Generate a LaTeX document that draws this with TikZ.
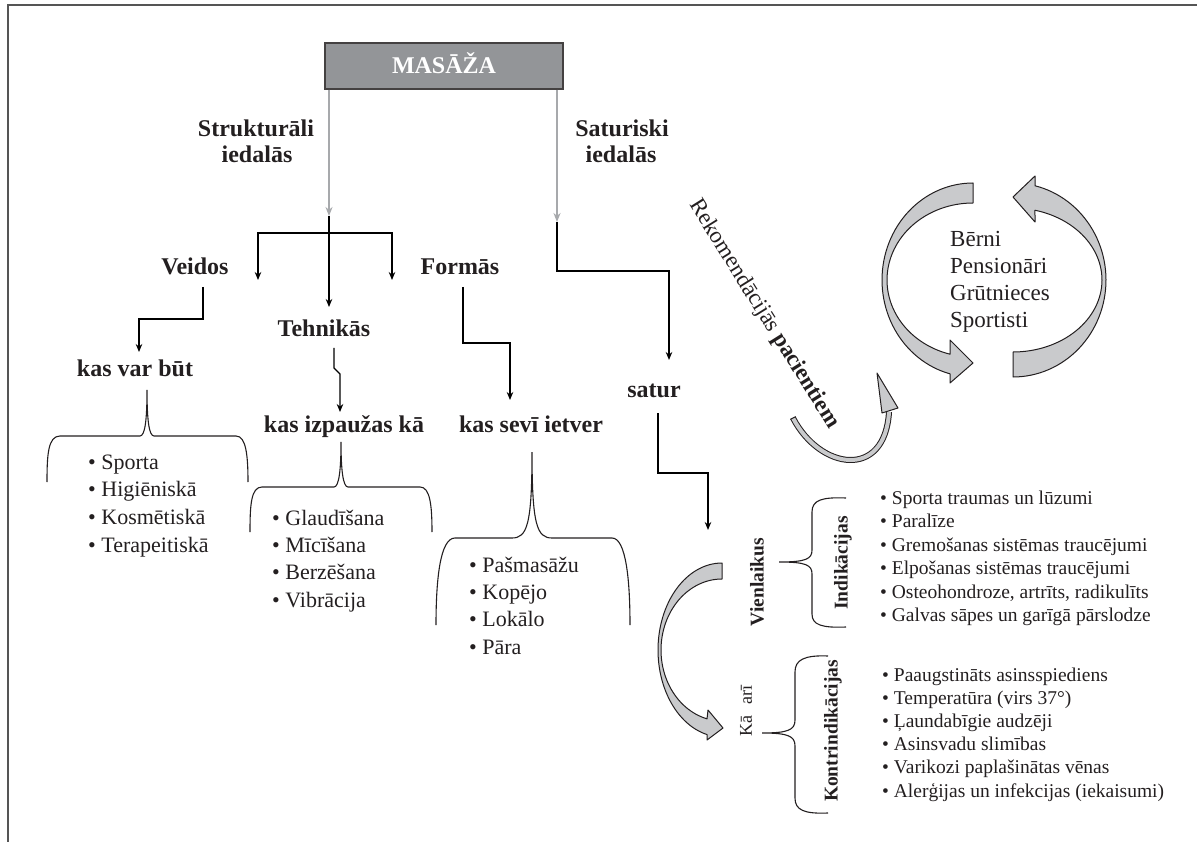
\documentclass[tikz,border=0pt]{standalone}
\usepackage{fontspec}
\setmainfont{Liberation Serif}
\usetikzlibrary{arrows.meta}
\definecolor{boxgray}{HTML}{939598}
\definecolor{linegray}{HTML}{A7A9AC}
\definecolor{fillgray}{HTML}{C9CACC}
\definecolor{framegray}{HTML}{555555}
\definecolor{ink}{HTML}{231F20}
\begin{document}
\begin{tikzpicture}[x=1pt,y=-1pt,
  lbl/.style={font=\rmfamily\fontsize{24}{28}\selectfont\bfseries, text=ink, inner sep=0pt, anchor=base},
  listitem/.style={font=\rmfamily\fontsize{22}{26}\selectfont, text=ink, inner sep=0pt, anchor=base west},
  smallitem/.style={font=\rmfamily\fontsize{19.5}{23}\selectfont, text=ink, inner sep=0pt, anchor=base west},
  groupitem/.style={font=\rmfamily\fontsize{23}{27}\selectfont, text=ink, inner sep=0pt, anchor=base west},
  rlbl/.style={font=\rmfamily\fontsize{19.5}{23}\selectfont\bfseries, text=ink, inner sep=0pt, rotate=90, anchor=center},
  conn/.style={draw=black, line width=1.3pt, -{Stealth[length=8pt,width=6.5pt]}},
  gconn/.style={draw=linegray, line width=2.2pt, -{Stealth[length=9pt,width=7pt]}},
  bracepath/.style={draw=ink, line width=1.1pt},
  ribbon/.style={fill=fillgray, draw=ink, line width=1pt, line join=round},
]
\useasboundingbox (0,0) rectangle (1197,842);
% frame
\draw[framegray, line width=2pt] (8,842) -- (8,5) -- (1197,5);

% title box
\node[draw=ink!85, fill=boxgray, line width=1.2pt, minimum width=238pt, minimum height=46pt, inner sep=0pt] (masaza) at (444,66) {};
\node[font=\rmfamily\fontsize{24}{28}\selectfont\bfseries, text=white, inner sep=0pt, anchor=base] (masazatxt) at (444,74) {MASĀŽA};

% labels
\node[lbl] (strA) at (256,137) {Strukturāli};
\node[lbl] (strB) at (257,163) {iedalās};
\node[lbl] (satA) at (622,137) {Saturiski};
\node[lbl] (satB) at (621,163) {iedalās};
\node[lbl] (veidos) at (195,275) {Veidos};
\node[lbl] (formas) at (460,275) {Formās};
\node[lbl] (tehnikas) at (324,337) {Tehnikās};
\node[lbl] (kvb) at (135,377) {kas var būt};
\node[lbl] (kia) at (344,432) {kas izpaužas kā};
\node[lbl] (ksi) at (531,432) {kas sevī ietver};
\node[lbl] (satur) at (654,397) {satur};

% coordinates for connectors
\coordinate (jl) at (329,216);
\coordinate (jr) at (557,222);
\coordinate (jh) at (329,233);
\coordinate (tipL) at (258,280);
\coordinate (tipR) at (392,280);
\coordinate (tipT) at (329,307);
\coordinate (tipS) at (669,360);
\coordinate (vStart) at (203,287);
\coordinate (vTip) at (139,352);
\coordinate (tStart) at (334,348);
\coordinate (tTip) at (340,412);
\coordinate (fStart) at (463,287);
\coordinate (fTip) at (510,400);
\coordinate (sStart) at (658,413);
\coordinate (sTip) at (708,530);

% gray connectors
\draw[gconn] (masaza.south -| jl) -- (jl);
\draw[gconn] (masaza.south -| jr) -- (jr);
% black connectors
\draw[conn] (jl) -- (tipT);
\draw[conn] (jh) -| (tipL);
\draw[conn] (jh) -| (tipR);
\draw[conn] (jr) -- (557,271) -| (tipS);
\draw[conn] (vStart) -- (203,319) -| (vTip);
\draw[conn] (tStart) -- (334,368) -- (340,374) -- (tTip);
\draw[conn] (fStart) -- (463,343) -| (fTip);
\draw[conn] (sStart) -- (658,473) -| (sTip);

% upward braces
\draw[bracepath] (47,482) .. controls (47,455) and (48,436) .. (60,436) -- (140,436) .. controls (145,436) and (147,420) .. (147,390) .. controls (147,420) and (149,436) .. (154,436) -- (236,436) .. controls (246,436) and (248,455) .. (248,482);
\draw[bracepath] (250,532) .. controls (250,505) and (251,487) .. (262,487) -- (334,487) .. controls (339,487) and (341,470) .. (341,442) .. controls (341,470) and (343,487) .. (348,487) -- (420,487) .. controls (430,487) and (432,505) .. (432,532);
\draw[bracepath] (436,625) .. controls (436,580) and (440,538) .. (455,538) -- (512,538) .. controls (527,538) and (532,525) .. (532,452) .. controls (532,525) and (537,538) .. (552,538) -- (612,538) .. controls (626,538) and (630,580) .. (630,625);

% right-facing braces
\draw[bracepath] (846,498) .. controls (822,497) and (812,500) .. (812,512) -- (812,550) .. controls (812,559) and (806,562) .. (779,562) .. controls (806,562) and (812,565) .. (812,574) -- (812,614) .. controls (812,625) and (822,628) .. (846,627);
\draw[bracepath] (828,656) .. controls (804,655) and (795,660) .. (795,672) -- (795,720) .. controls (795,730) and (788,733) .. (762,733) .. controls (788,733) and (795,736) .. (795,746) -- (795,798) .. controls (795,810) and (804,814) .. (828,813);

% lists
\foreach \lab [count=\i] in {Sporta, Higiēniskā, Kosmētiskā, Terapeitiskā}
  \node[listitem] (la\i) at (88,{469+27.9*(\i-1)}) {• \lab};
\foreach \lab [count=\i] in {Glaudīšana, Mīcīšana, Berzēšana, Vibrācija}
  \node[listitem] (lb\i) at (272,{525+27.4*(\i-1)}) {• \lab};
\foreach \lab [count=\i] in {Pašmasāžu, Kopējo, Lokālo, Pāra}
  \node[listitem] (lc\i) at (469,{572+27.4*(\i-1)}) {• \lab};
\foreach \lab [count=\i] in {Sporta traumas un lūzumi, Paralīze, Gremošanas sistēmas traucējumi, Elpošanas sistēmas traucējumi, {Osteohondroze, artrīts, radikulīts}, Galvas sāpes un garīgā pārslodze}
  \node[smallitem] (ld\i) at (880,{504+23.5*(\i-1)}) {• \lab};
\foreach \lab [count=\i] in {Paaugstināts asinsspiediens, Temperatūra (virs 37°), Ļaundabīgie audzēji, Asinsvadu slimības, Varikozi paplašinātas vēnas, Alerģijas un infekcijas (iekaisumi)}
  \node[smallitem] (le\i) at (882,{681+23.2*(\i-1)}) {• \lab};
\foreach \lab [count=\i] in {Bērni, Pensionāri, Grūtnieces, Sportisti}
  \node[groupitem] (lf\i) at (950,{247+27*(\i-1)}) {\lab};

% rotated labels
\node[rlbl] (vien) at (757,582) {Vienlaikus};
\node[rlbl] (indik) at (843,563) {Indikācijas};
\node[rlbl] (kontr) at (833,731) {Kontrindikācijas};
\node[font=\rmfamily\fontsize{18}{22}\selectfont, text=ink, inner sep=0pt, rotate=90] (kaari) at (746,711) {Kā\hspace{12pt}arī};
\node[font=\rmfamily\fontsize{23}{27}\selectfont, text=ink, inner sep=0pt, rotate=-58] (rekom) at (764,314) {Rekomendācijās \textbf{pacientiem}};

% circular ribbon arrows
\filldraw[ribbon] plot[domain=-90:-255.4, samples=60, variable=\a] ({973+91*cos(\a)},{280+97*sin(\a)}) -- (950,383) -- (973,363) -- (950,340) -- plot[domain=-254.5:-90, samples=60, variable=\a] ({973+86*cos(\a)},{280+77*sin(\a)}) -- cycle;
\filldraw[ribbon] plot[domain=90:-76.3, samples=60, variable=\a] ({1013+93*cos(\a)},{280+97*sin(\a)}) -- (1035,176) -- (1013,197) -- (1035,222) -- plot[domain=-75.7:90, samples=60, variable=\a] ({1013+89*cos(\a)},{280+72*sin(\a)}) -- cycle;
% lower big ribbon arrow
\filldraw[ribbon] plot[domain=-90:-256.5, samples=60, variable=\a] ({722+64*cos(\a)},{650+87*sin(\a)}) -- (707,740) -- (723,728) -- (708,710) -- plot[domain=-255.8:-90, samples=60, variable=\a] ({722+61*cos(\a)},{650+71*sin(\a)}) -- cycle;
% small curved arrow
\draw[ink, line width=6pt] (793,418) .. controls (820,470) and (885,480) .. (889,412);
\draw[fillgray, line width=4pt] (793,418) .. controls (820,470) and (885,480) .. (889,412);
\draw[ink, line width=1pt] (790.3,419.4) -- (795.7,416.6);
\filldraw[ribbon] (877,373) -- (898,408) -- (882,413) -- cycle;
\end{tikzpicture}
\end{document}
